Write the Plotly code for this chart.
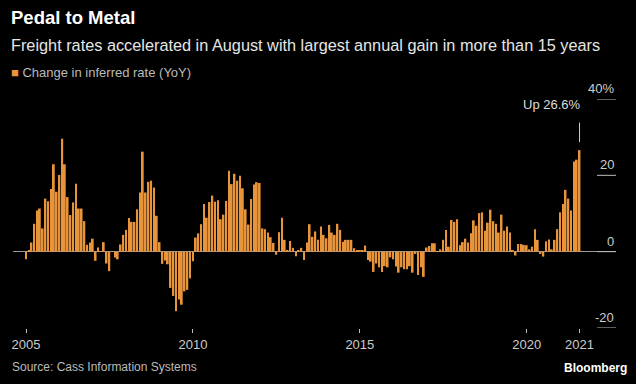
import pandas as pd
import plotly.graph_objects as go

# Monthly YoY change in Cass inferred freight rate, Jan 2005 - Aug 2021 (%)
start_month = "2005-01-01"
yoy_change = [
    -2.0, 0.2, 2.4, 7.3, 10.8, 11.3, 6.1, 13.9, 13.2, 16.4, 22.9, 15.7,      # 2005
    20.1, 29.6, 22.9, 14.3, 9.6, 12.9, 17.8, 11.3, 11.3, 8.0, 1.8, 2.4,      # 2006
    3.4, -2.4, 1.1, 0.1, 2.5, -3.1, -5.1, 0.1, -1.5, -2.0, 1.9, 4.4,         # 2007
    5.7, 8.8, 7.8, 7.8, 11.1, 15.5, 26.2, 15.5, 18.3, 18.6, 16.8, 9.4,       # 2008
    2.5, -3.2, -2.3, -3.3, -9.5, -11.6, -15.6, -12.5, -13.9, -10.4, -10.0, -7.0,  # 2009
    -2.5, 3.7, 4.8, 7.2, 12.5, 8.9, 13.0, 14.7, 13.1, 13.5, 8.5, 9.7,        # 2010
    13.3, 21.2, 17.7, 20.4, 18.6, 19.9, 16.6, 11.1, 7.1, 13.8, 17.6, 18.2,   # 2011
    18.0, 6.1, 5.9, 5.0, 3.8, 2.3, -0.8, 5.1, 8.9, 3.1, 0.2, 2.8,            # 2012
    1.0, -1.2, 0.4, 1.0, -2.2, 2.4, 7.2, 3.9, 5.3, 3.1, 6.6, 4.4,            # 2013
    3.5, 7.0, 5.0, 4.4, 7.3, 5.7, 2.6, 3.1, 3.1, 3.1, 0.9, 0.3,              # 2014
    0.2, 0.3, 1.6, -2.2, -2.6, -5.3, -3.1, -4.1, -5.3, -3.8, -4.1, -1.5,     # 2015
    -2.0, -3.9, -5.5, -4.1, -4.6, -4.6, -3.8, -5.5, -0.6, -6.1, -4.1, -6.6,  # 2016
    1.1, 1.5, 2.2, 2.2, 0.1, 0.6, 3.1, 5.7, 1.3, 8.3, 7.8, 8.5,              # 2017
    1.7, 2.5, 3.4, 2.4, 4.8, 8.2, 6.8, 10.1, 10.3, 5.5, 7.6, 11.0,           # 2018
    8.0, 7.3, 5.0, 9.7, 5.5, 6.6, 5.0, 0.4, -1.0, 2.0, 2.0, 1.8,             # 2019
    1.7, 0.6, 1.3, 5.9, 3.1, -0.6, -1.3, 2.7, 3.2, 0.6, 3.1, 5.9,            # 2020
    10.3, 12.5, 16.2, 13.9, 10.8, 23.6, 24.1, 26.6,                          # 2021
]
dates = pd.date_range(start_month, periods=len(yoy_change), freq="MS")

x_tick_vals = ["2005-01-01", "2010-01-01", "2015-01-01", "2020-01-01", "2021-08-01"]
x_tick_text = ["2005", "2010", "2015", "2020", "2021"]
y_tick_vals = [-20, 0, 20, 40]
y_tick_text = ["-20", "0", "20", "40%"]

title = "Pedal to Metal"
subtitle = "Freight rates accelerated in August with largest annual gain in more than 15 years"
series_name = "Change in inferred rate (YoY)"
source = "Source: Cass Information Systems"

BAR = "#e8943a"
FONT = "Liberation Sans, Arial, sans-serif"

fig = go.Figure()
fig.add_trace(go.Bar(
    x=dates, y=yoy_change, name=series_name,
    marker=dict(color=BAR, line=dict(width=0)),
    showlegend=False,
))

W, H = 636, 384
ml, mr, mt, mb = 13, 20, 99, 56
plot_h = H - mt - mb

def py(pixel_y):
    return (H - mb - pixel_y) / plot_h

def px(pixel_x):
    return (pixel_x - ml) / (W - ml - mr)

fig.update_layout(
    width=W, height=H,
    paper_bgcolor="#000000", plot_bgcolor="#000000",
    margin=dict(l=ml, r=mr, t=mt, b=mb),
    bargap=0.3,
    font=dict(family=FONT, color="#cccccc", size=12),
    xaxis=dict(
        type="date",
        range=["2004-08-11", "2022-09-04"],
        tickvals=x_tick_vals, ticktext=x_tick_text,
        ticks="outside", ticklen=4, tickwidth=1, tickcolor="#bbbbbb",
        showgrid=False, showline=False, zeroline=False,
        tickfont=dict(size=13, color="#cccccc"),
    ),
    yaxis=dict(
        range=[-20, 40],
        showgrid=False, showticklabels=False, ticks="",
        zeroline=True, zerolinecolor="#999999", zerolinewidth=1,
        showline=False,
    ),
)

# Right-side y tick marks + labels
for v, t in zip(y_tick_vals, y_tick_text):
    fig.add_shape(type="line", xref="paper", yref="y",
                  x0=px(597), x1=1, y0=v, y1=v,
                  line=dict(color="#bbbbbb", width=1))
    fig.add_annotation(xref="paper", yref="y", x=1, y=v, text=t,
                       showarrow=False, xanchor="right", yanchor="bottom",
                       yshift=1, font=dict(size=13, color="#cccccc"))

# Callout for latest value
last_x, last_y = dates[-1], yoy_change[-1]
fig.add_annotation(x=last_x, y=last_y, text="", showarrow=True, arrowhead=0,
                   ax=0, ay=-29, standoff=8, arrowwidth=1, arrowcolor="#cccccc")
fig.add_annotation(x=last_x, y=last_y, text=f"Up {last_y}%", showarrow=False,
                   xanchor="right", yanchor="middle", yshift=46, xshift=3,
                   font=dict(size=13, color="#dddddd"))

# Header
fig.add_annotation(xref="paper", yref="paper", x=px(9), y=py(18), text=f"<b>{title}</b>",
                   showarrow=False, xanchor="left", yanchor="middle",
                   font=dict(size=18.5, color="#ffffff"))
fig.add_annotation(xref="paper", yref="paper", x=px(9), y=py(45), text=subtitle,
                   showarrow=False, xanchor="left", yanchor="middle",
                   font=dict(size=16.3, color="#e6e6e6"))
fig.add_annotation(xref="paper", yref="paper", x=px(9), y=py(72),
                   text=f"<span style='color:{BAR}'>■</span> {series_name}",
                   showarrow=False, xanchor="left", yanchor="middle",
                   font=dict(size=13, color="#bbbbbb"))

# Footer
fig.add_annotation(xref="paper", yref="paper", x=px(10), y=py(367), text=source,
                   showarrow=False, xanchor="left", yanchor="middle",
                   font=dict(size=12, color="#bbbbbb"))
fig.add_annotation(xref="paper", yref="paper", x=px(629), y=py(368), text="<b>Bloomberg</b>",
                   showarrow=False, xanchor="right", yanchor="middle",
                   font=dict(size=12, color="#ffffff"))

fig.write_html("out.html", config={"displayModeBar": False},
               post_script="document.body.style.margin='0';document.body.style.overflow='hidden';")
